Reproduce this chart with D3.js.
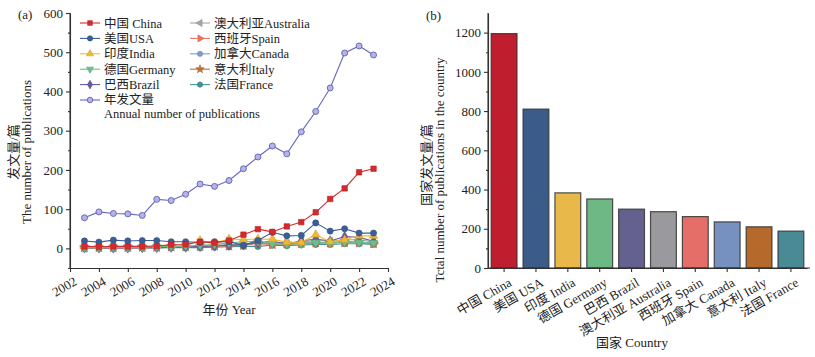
<!DOCTYPE html>
<html><head><meta charset="utf-8">
<script src="https://cdn.jsdelivr.net/npm/d3@7"></script>
<style>
body{margin:0;background:#fff;}
svg text{font-family:"Liberation Serif","Times New Roman","Noto Sans CJK SC",serif;fill:#222;}
</style></head>
<body><svg id="c" width="815" height="357"></svg>
<script>
const years = d3.range(2003, 2024);
const annual    = [78,93,89,88,84,125,122,138,164,158,173,203,233,261,241,297,349,409,498,516,493];
const china     = [5,4,5,5,5,6,9,10,17,14,20,35,49,42,56,67,92,126,153,194,203];
const usa       = [19,16,21,19,20,20,17,17,15,17,17,8,20,41,32,33,65,44,50,39,39];
const india     = [5,5,4,4,4,7,8,9,20,14,24,22,24,23,16,15,35,17,22,32,32];
const germany   = [2,2,3,3,3,4,5,6,8,10,14,17,18,12,10,12,15,14,16,15,14];
const brazil    = [1,1,1,1,2,2,3,3,5,6,8,10,14,18,12,19,24,19,30,28,18];
const australia = [1,2,2,2,2,3,4,5,5,8,10,12,14,16,12,16,20,18,22,22,17];
const spain     = [3,3,3,3,4,4,4,5,6,7,8,10,12,10,12,12,14,14,16,14,12];
const canada    = [2,2,2,2,2,2,3,4,5,7,8,10,14,12,11,14,14,15,18,16,14];
const italy     = [2,2,2,3,3,3,4,4,5,6,6,8,14,10,12,13,15,14,15,16,12];
const france    = [1,1,1,1,1,1,2,2,2,3,4,5,5,8,7,9,10,10,12,12,10];

const countries = ["中国 China","美国 USA","印度 India","德国 Germany","巴西 Brazil","澳大利亚 Australia","西班牙 Spain","加拿大 Canada","意大利 Italy","法国 France"];
const totals = [1195,810,383,352,300,287,262,235,210,188];
const barColors = ["#be1e2d","#3b5c88","#e8b84a","#6db884","#65618f","#9a9a9e","#e56f68","#7690c0","#b5692a","#4a8a94"];

const xTicksA = d3.range(2002, 2025, 2);
const yTicksA = [0,100,200,300,400,500,600];
const yTicksB = [0,200,400,600,800,1000,1200];

const series = [
  {name:"中国 China", data:china, color:"#d42a2f", sym:d3.symbolSquare, col:0},
  {name:"美国USA", data:usa, color:"#3a5f96", sym:d3.symbolCircle, col:0},
  {name:"印度India", data:india, color:"#f2b830", sym:d3.symbolTriangle, col:0},
  {name:"德国Germany", data:germany, color:"#6cbf8a", sym:"down", col:0},
  {name:"巴西Brazil", data:brazil, color:"#6a5a9a", sym:d3.symbolDiamond, col:0},
  {name:"澳大利亚Australia", data:australia, color:"#a4a4aa", sym:"left", col:1},
  {name:"西班牙Spain", data:spain, color:"#ee7262", sym:"right", col:1},
  {name:"加拿大Canada", data:canada, color:"#7f9bd0", sym:d3.symbolCircle, col:1},
  {name:"意大利Italy", data:italy, color:"#c0702e", sym:d3.symbolStar, col:1},
  {name:"法国France", data:france, color:"#3f9595", sym:d3.symbolCircle, col:1}
];

const svg = d3.select("#c");
const FS = 13;

function marker(g, sym, color, x, y, size){
  let p;
  if (sym === "down" || sym === "left" || sym === "right"){
    const rot = sym==="down"?180:(sym==="left"?-90:90);
    p = g.append("path").attr("d", d3.symbol(d3.symbolTriangle, size)())
      .attr("transform",`translate(${x},${y}) rotate(${rot})`);
  } else {
    p = g.append("path").attr("d", d3.symbol(sym, size)()).attr("transform",`translate(${x},${y})`);
  }
  p.attr("fill", color).attr("stroke", d3.color(color).darker(0.4)).attr("stroke-width",0.6);
  return p;
}

// ---------- Chart (a) ----------
const xA = d3.scaleLinear().domain([2002,2024]).range([70,388]);
const yA = d3.scaleLinear().domain([-50,600]).range([268,13]);
const gA = svg.append("g");

const axisStyle = g => { g.selectAll("path,line").attr("stroke","#333").attr("stroke-width",1.1); g.selectAll("text").attr("font-size",FS).attr("fill","#222").attr("font-family",'"Liberation Serif",serif'); };

gA.append("g").attr("transform","translate(0,268)")
  .call(d3.axisBottom(xA).tickValues(xTicksA).tickFormat(d3.format("d")).tickSize(4).tickSizeOuter(0))
  .call(axisStyle)
  .call(g => g.selectAll("text").attr("text-anchor","end").attr("dy",0).attr("dx",0)
    .attr("transform","translate(4,10) rotate(-30)"));
gA.append("g").attr("transform","translate(70,0)")
  .call(d3.axisLeft(yA).tickValues(yTicksA).tickFormat(d3.format("d")).tickSize(4).tickSizeOuter(0))
  .call(axisStyle);
gA.append("g").attr("transform","translate(70,0)")
  .call(d3.axisLeft(yA).tickValues(d3.range(-50,600,100)).tickSize(2).tickFormat("").tickSizeOuter(0))
  .call(axisStyle).call(g=>g.select(".domain").remove());
gA.append("line").attr("x1",70).attr("x2",70).attr("y1",yA(-50)).attr("y2",yA(600)).attr("stroke","#333").attr("stroke-width",1.1);

const line = d3.line().x((d,i)=>xA(years[i])).y(d=>yA(d));
const drawOrder = series.slice().reverse();
drawOrder.forEach(s=>{
  gA.append("path").attr("d", line(s.data)).attr("fill","none").attr("stroke",s.color).attr("stroke-width",1.1);
  s.data.forEach((v,i)=> marker(gA, s.sym, s.color, xA(years[i]), yA(v), 30));
});
gA.append("path").attr("d", line(annual)).attr("fill","none").attr("stroke","#6868c0").attr("stroke-width",1.1);
annual.forEach((v,i)=> gA.append("circle").attr("cx",xA(years[i])).attr("cy",yA(v)).attr("r",3)
  .attr("fill","#b4b4e6").attr("stroke","#6060b8").attr("stroke-width",0.9));

// legend
const LFS = 12.5;
const legX = [80,190], legY0 = 23, legDy = 15.4;
series.forEach((s,i)=>{
  const row = s.col===0 ? i : i-5;
  const x = legX[s.col], y = legY0 + row*legDy;
  gA.append("line").attr("x1",x).attr("x2",x+20).attr("y1",y).attr("y2",y).attr("stroke",s.color).attr("stroke-width",1.1);
  marker(gA, s.sym, s.color, x+10, y, 22);
  gA.append("text").attr("x",x+24).attr("y",y+4.5).attr("font-size",LFS).text(s.name);
});
{
  const y = legY0 + 5*legDy, x = legX[0];
  gA.append("line").attr("x1",x).attr("x2",x+20).attr("y1",y).attr("y2",y).attr("stroke","#6868c0").attr("stroke-width",1.1);
  gA.append("circle").attr("cx",x+10).attr("cy",y).attr("r",2.8).attr("fill","#b4b4e6").attr("stroke","#6060b8").attr("stroke-width",0.9);
  gA.append("text").attr("x",x+24).attr("y",y+4).attr("font-size",LFS).text("年发文量");
  gA.append("text").attr("x",x+24).attr("y",y+18).attr("font-size",LFS).text("Annual number of publications");
}

gA.append("text").attr("x",18).attr("y",19).attr("font-size",FS).text("(a)");
gA.append("text").attr("transform","translate(18,152) rotate(-90)").attr("text-anchor","middle").attr("font-size",FS).attr("fill","#333").text("发文量/篇");
gA.append("text").attr("transform","translate(31,152) rotate(-90)").attr("text-anchor","middle").attr("font-size",FS).attr("fill","#333").text("The number of publications");
gA.append("text").attr("x",229).attr("y",314).attr("text-anchor","middle").attr("font-size",FS).text("年份 Year");

// ---------- Chart (b) ----------
const xB = d3.scaleBand().domain(countries).range([488,807]).paddingInner(0.19).paddingOuter(0.1);
const yB = d3.scaleLinear().domain([0,1300]).range([268,13]);
const gB = svg.append("g");

gB.selectAll("rect").data(countries).join("rect")
  .attr("x", d=>xB(d)).attr("width", xB.bandwidth())
  .attr("y", (d,i)=>yB(totals[i])).attr("height",(d,i)=>yB(0)-yB(totals[i]))
  .attr("fill",(d,i)=>barColors[i]).attr("stroke","#333").attr("stroke-opacity",0.85).attr("stroke-width",1.2);

gB.append("g").attr("transform","translate(0,268)")
  .call(d3.axisBottom(xB).tickSize(4).tickSizeOuter(0))
  .call(axisStyle)
  .call(g => g.selectAll("text").attr("text-anchor","end").attr("dy",0)
    .attr("transform","translate(5,11) rotate(-30)"));
gB.append("line").attr("x1",488).attr("x2",810).attr("y1",268).attr("y2",268).attr("stroke","#333").attr("stroke-width",1.1);
gB.append("g").attr("transform","translate(488,0)")
  .call(d3.axisLeft(yB).tickValues(yTicksB).tickFormat(d3.format("d")).tickSize(4).tickSizeOuter(0))
  .call(axisStyle);
gB.append("g").attr("transform","translate(488,0)")
  .call(d3.axisLeft(yB).tickValues(d3.range(100,1300,200)).tickSize(2).tickFormat("").tickSizeOuter(0))
  .call(axisStyle).call(g=>g.select(".domain").remove());
gB.append("line").attr("x1",488).attr("x2",488).attr("y1",yB(0)).attr("y2",yB(1300)).attr("stroke","#333").attr("stroke-width",1.1);

gB.append("text").attr("x",426).attr("y",20).attr("font-size",FS).text("(b)");
gB.append("text").attr("transform","translate(431,165) rotate(-90)").attr("text-anchor","middle").attr("font-size",FS).attr("fill","#333").text("国家发文量/篇");
gB.append("text").attr("transform","translate(444,170) rotate(-90)").attr("text-anchor","middle").attr("font-size",FS).attr("fill","#333").text("Tctal number of publications in the country");
gB.append("text").attr("x",632).attr("y",347).attr("text-anchor","middle").attr("font-size",FS).text("国家 Country");
</script></body></html>
